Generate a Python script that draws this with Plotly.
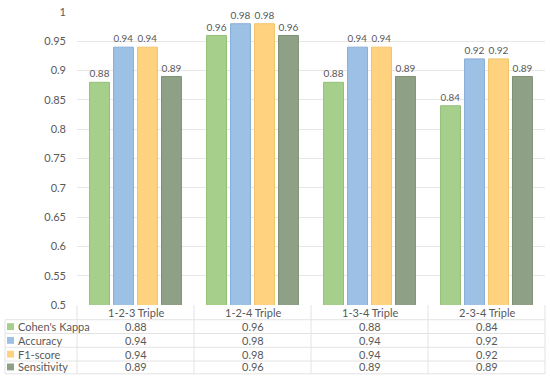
import plotly.graph_objects as go

categories = ["1-2-3 Triple", "1-2-4 Triple", "1-3-4 Triple", "2-3-4 Triple"]
series_names = ["Cohen's Kappa", "Accuracy", "F1-score", "Sensitivity"]
kappa = [0.88, 0.96, 0.88, 0.84]
accuracy = [0.94, 0.98, 0.94, 0.92]
f1_score = [0.94, 0.98, 0.94, 0.92]
sensitivity = [0.89, 0.96, 0.89, 0.89]
series_values = [kappa, accuracy, f1_score, sensitivity]
y_ticks = [0.5, 0.55, 0.6, 0.65, 0.7, 0.75, 0.8, 0.85, 0.9, 0.95, 1.0]
y_tick_labels = ["0.5", "0.55", "0.6", "0.65", "0.7", "0.75", "0.8", "0.85", "0.9", "0.95", "1"]

colors = ["#a6cf8c", "#9dc0e5", "#fed27f", "#8ea186"]
edges = ["#93bf78", "#88aed8", "#f2c46c", "#7d9075"]

W, H = 550, 380
L, R, T, B = 77, 5, 7, 75
plot_w = W - L - R
plot_h = H - T - B
FONT = "Lato, Open Sans, sans-serif"
GREY = "#595959"


def px_x(px):
    return (px - L) / plot_w


def px_y(py):
    return (H - B - py) / plot_h


fig = go.Figure()
for name, vals, c, e in zip(series_names, series_values, colors, edges):
    fig.add_trace(go.Bar(
        x=categories, y=vals, name=name,
        marker=dict(color=c, line=dict(color=e, width=1)),
        text=[f"{v:.2f}" for v in vals], textposition="outside",
        textfont=dict(size=11, color=GREY, family=FONT),
        cliponaxis=True,
    ))

shapes = []
annotations = []
line_col = "#e3e3e3"
for py in [320, 334, 348, 362, 375]:
    shapes.append(dict(type="line", xref="paper", yref="paper",
                       x0=px_x(5), x1=px_x(545), y0=px_y(py), y1=px_y(py),
                       line=dict(color=line_col, width=1)))
for i in range(len(categories) + 1):
    xp = i / len(categories)
    shapes.append(dict(type="line", xref="paper", yref="paper",
                       x0=xp, x1=xp, y0=px_y(305), y1=px_y(375),
                       line=dict(color=line_col, width=1)))
shapes.append(dict(type="line", xref="paper", yref="paper",
                   x0=px_x(5), x1=px_x(5), y0=px_y(320), y1=px_y(375),
                   line=dict(color=line_col, width=1)))

for cat in categories:
    annotations.append(dict(x=cat, xref="x", y=px_y(313), yref="paper",
                            text=cat, showarrow=False, xanchor="center", yanchor="middle",
                            font=dict(size=11, color=GREY, family=FONT)))
row_centers = [327, 341, 355, 368]
for name, vals, c, yc in zip(series_names, series_values, colors, row_centers):
    shapes.append(dict(type="rect", xref="paper", yref="paper",
                       x0=px_x(7), x1=px_x(14), y0=px_y(yc + 3.5), y1=px_y(yc - 3.5),
                       fillcolor=c, line=dict(width=0)))
    annotations.append(dict(x=px_x(16), xref="paper", y=px_y(yc), yref="paper",
                            text=name, showarrow=False, xanchor="left", yanchor="middle",
                            font=dict(size=11, color=GREY, family=FONT)))
    for cat, v in zip(categories, vals):
        annotations.append(dict(x=cat, xref="x", y=px_y(yc), yref="paper",
                                text=f"{v:.2f}", showarrow=False,
                                xanchor="center", yanchor="middle",
                                font=dict(size=11, color=GREY, family=FONT)))

fig.update_layout(
    width=W, height=H,
    margin=dict(l=L, r=R, t=T, b=B),
    paper_bgcolor="white", plot_bgcolor="white",
    barmode="group", bargap=0.18, bargroupgap=0.17,
    showlegend=False,
    font=dict(family=FONT, color=GREY, size=11),
    xaxis=dict(showticklabels=False, showgrid=False, zeroline=False, showline=False, ticks=""),
    yaxis=dict(range=[0.5, 1], tickmode="array", tickvals=y_ticks, ticktext=y_tick_labels,
               showgrid=True, gridcolor="#e6e6e6", ticklabeloverflow="allow",
               zeroline=False, showline=False, ticks="", ticklabelstandoff=10,
               tickfont=dict(size=11, color=GREY, family=FONT)),
    shapes=shapes, annotations=annotations,
)
fig.write_html("out.html", config={"displayModeBar": False},
               post_script="document.body.style.margin='0';")
